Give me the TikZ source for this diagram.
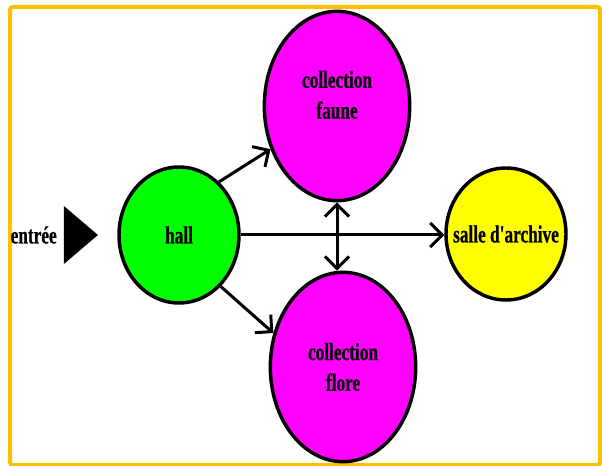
\documentclass[tikz,border=0pt]{standalone}
\usepackage{fontspec}
\newfontfamily\roomfont{Liberation Serif}[FakeStretch=0.7,FakeBold=0.6]
\usetikzlibrary{arrows.meta,positioning,shapes.geometric}
\definecolor{FrameOrange}{HTML}{FFC000}
\definecolor{HallGreen}{HTML}{00FF00}
\definecolor{RoomMagenta}{HTML}{FF00FF}
\definecolor{RoomYellow}{HTML}{FFFF00}

\begin{document}
\begin{tikzpicture}[x=0.75pt,y=-0.75pt,
  room/.style={ellipse,draw,line width=2.6pt,align=center,inner sep=0pt,
    font=\roomfont\bfseries\fontsize{18.5}{23}\selectfont},
  tag/.style={font=\roomfont\bfseries\fontsize{18.5}{23}\selectfont,inner sep=0pt},
  arr/.style={-{Straight Barb[length=9pt,width=18pt,line width=2.25pt]},line width=2.25pt},
  twoarr/.style={{Straight Barb[length=9pt,width=18pt,line width=2.25pt]}-{Straight Barb[length=9pt,width=18pt,line width=2.25pt]},line width=2.25pt}
]
  \useasboundingbox (0,0) rectangle (602,466);
  \draw[FrameOrange,line width=3pt,rounded corners=2pt] (10,7) rectangle (600,465);

  \node[room,fill=HallGreen,minimum width=90pt,minimum height=102pt] (hall) at (179,235) {hall};
  \node[room,fill=RoomMagenta,minimum width=109pt,minimum height=142pt] (faune) at (337,106) {collection\\faune\\[-6pt]\mbox{}};
  \node[room,fill=RoomMagenta,minimum width=109pt,minimum height=142pt] (flore) at (343,367) {collection\\flore};
  \node[room,fill=RoomYellow,minimum width=90pt,minimum height=99pt,inner xsep=-10pt] (archive) at (506,234) {salle d'archive};

  \node[isosceles triangle,isosceles triangle stretches,fill=black,inner sep=0pt,
    minimum width=43.5pt,minimum height=25.5pt,left=14pt of hall] (door) {};
  \node[tag,left=5pt of door] (entree) {entrée};

  \draw[arr] (hall.53) -- (faune.213);
  \draw[arr] (hall.-51) -- (flore.154);
  \draw[arr] (hall.east) -- (hall.east -| archive.west);
  \draw[twoarr] (faune.south) -- (faune.south |- flore.north);
\end{tikzpicture}
\end{document}
